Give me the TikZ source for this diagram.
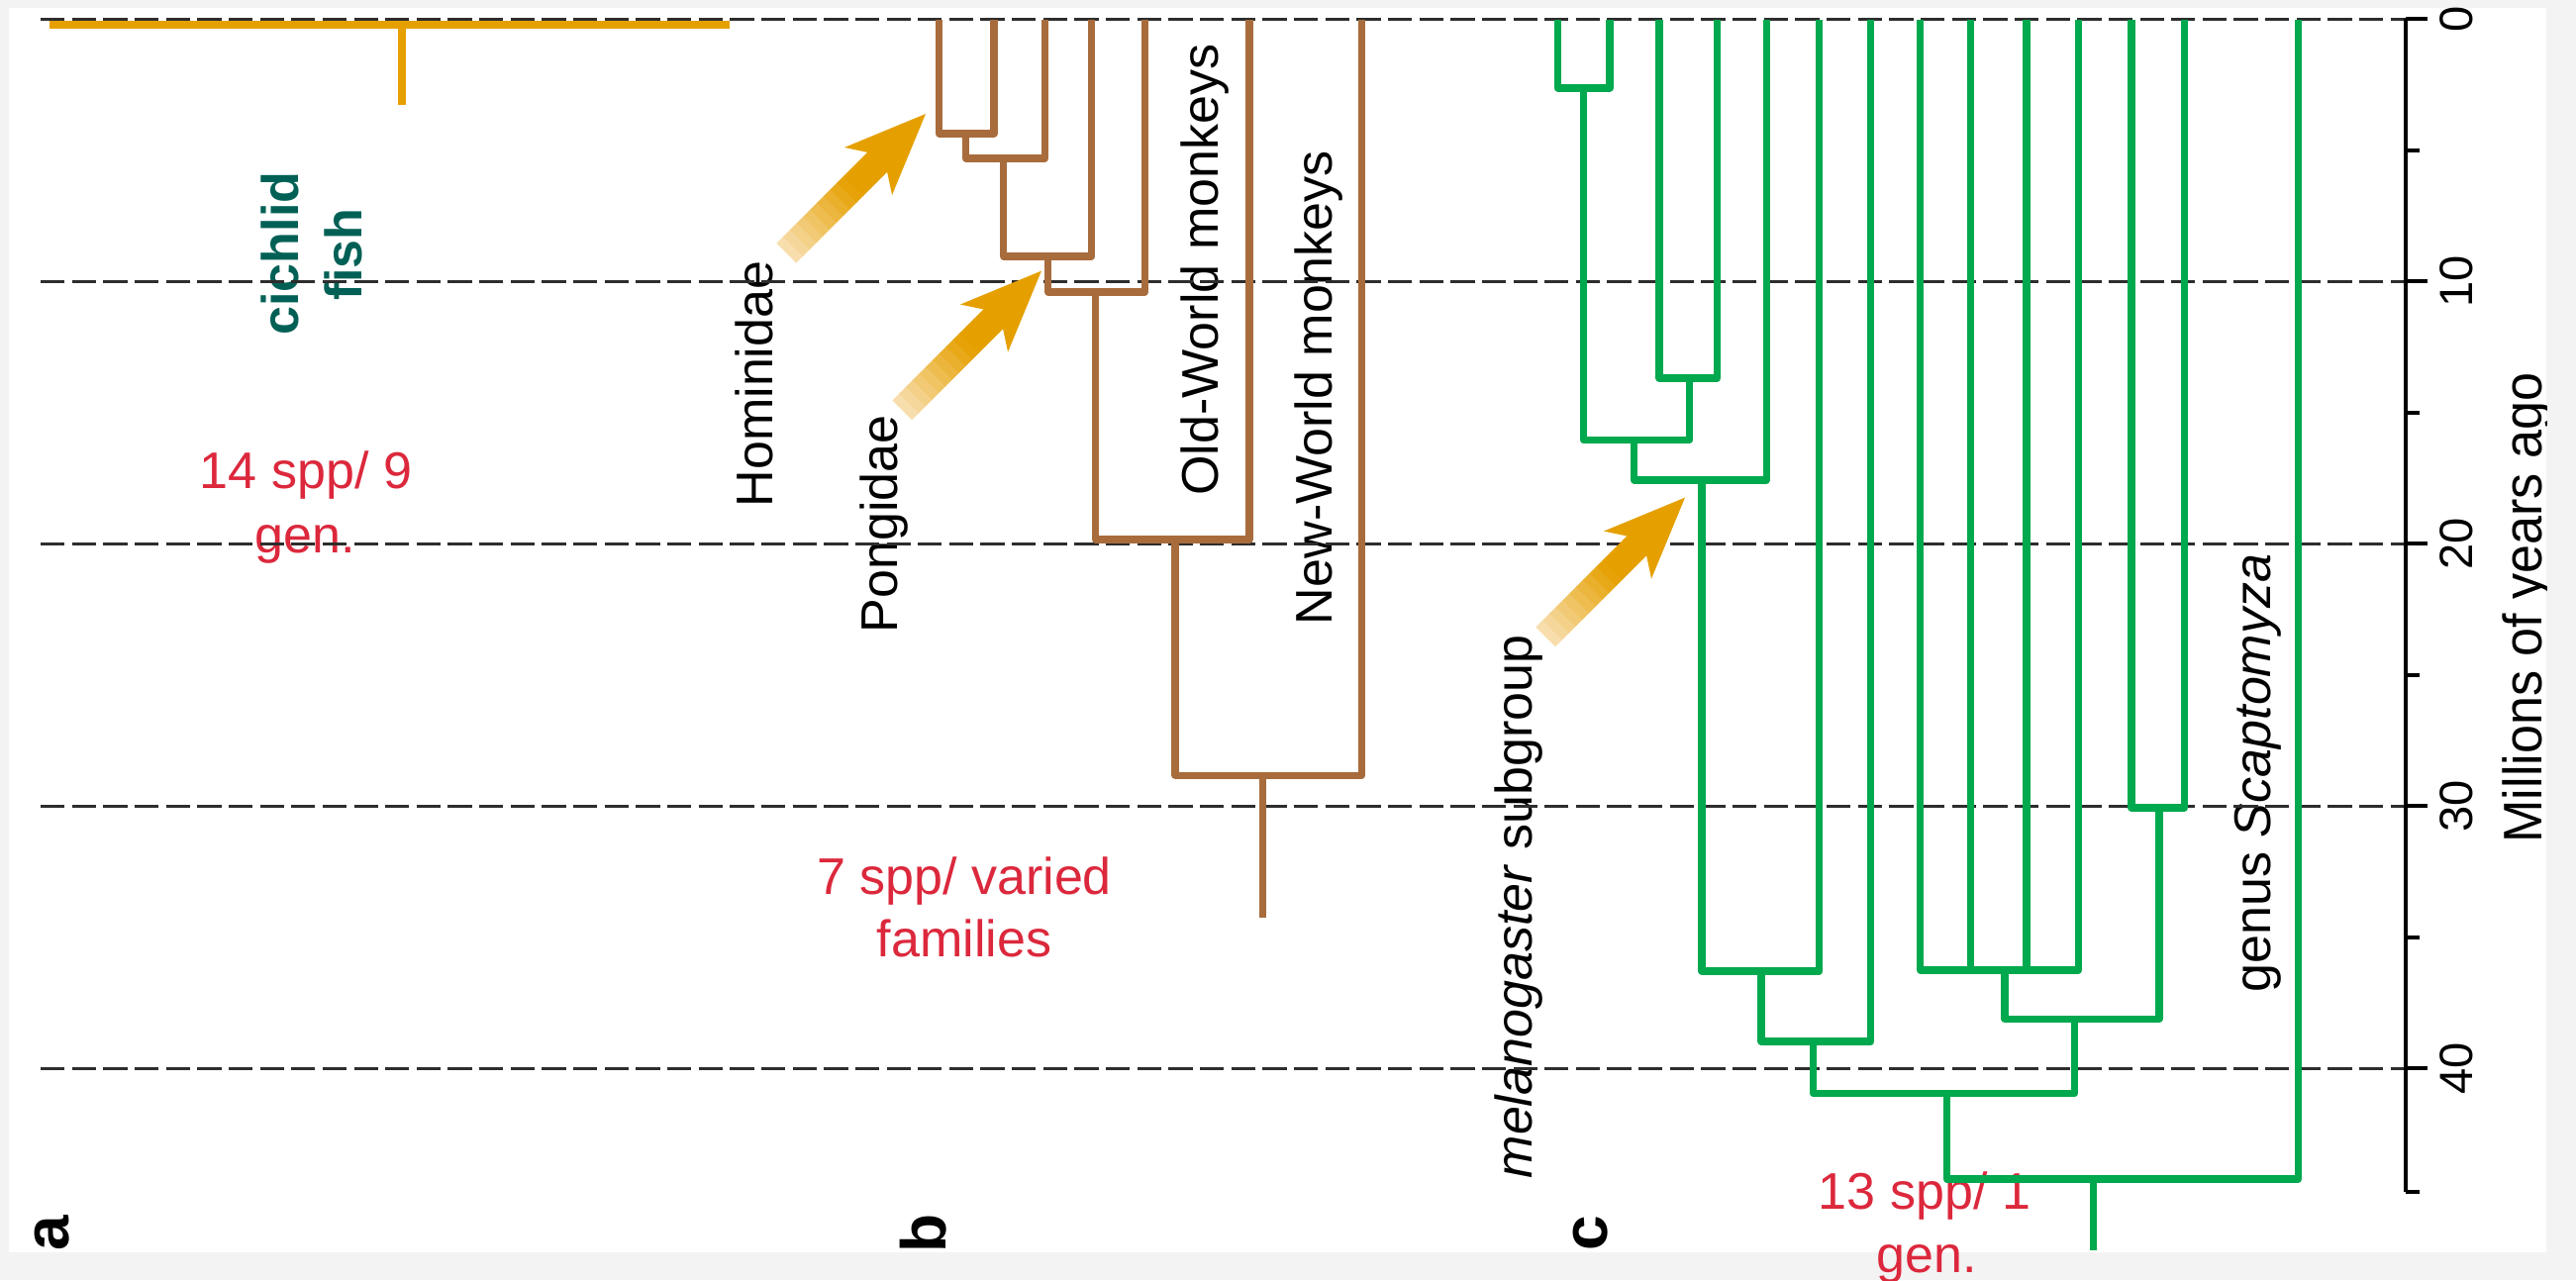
\documentclass[tikz,border=0pt]{standalone}
\usepackage{fontspec}
\setmainfont{Liberation Sans}
\definecolor{gold}{RGB}{229,160,0}
\definecolor{pale}{RGB}{252,234,206}
\definecolor{brtreecol}{RGB}{168,108,60}
\definecolor{grtreecol}{RGB}{0,168,78}
\definecolor{redtxt}{RGB}{220,40,60}
\definecolor{tealtxt}{RGB}{0,96,86}
\definecolor{dashcol}{RGB}{45,45,45}
\definecolor{bggray}{RGB}{243,243,243}
\newcommand\fsLbl{\fontsize{14.8pt}{17pt}\selectfont}
\newcommand\fsTick{\fontsize{13.4pt}{16pt}\selectfont}
\newcommand\fsTitle{\fontsize{15.6pt}{18pt}\selectfont}
\newcommand\fsPanel{\fontsize{18.2pt}{21pt}\selectfont}
\newcommand\goldarrow[1]{%
  \begin{scope}[shift={#1}, rotate=45]
    \foreach \i in {0,...,13} {
      \pgfmathsetmacro\ua{-199+\i*9.6}
      \pgfmathsetmacro\ub{\ua+10.4}
      \pgfmathtruncatemacro\pc{min(100,16+\i*9)}
      \fill[gold!\pc!pale] (\ua,-14) rectangle (\ub,14);
    }
    \fill[gold] (0,0) -- (-82,-34) -- (-69,-14) -- (-69,14) -- (-82,34) -- cycle;
  \end{scope}}
\begin{document}
\begin{tikzpicture}[x=0.01cm,y=-0.01cm,
  gridline/.style={draw=dashcol, line width=0.85pt, dash pattern=on 6.9pt off 2.1pt},
  brtree/.style={draw=brtreecol, line width=2pt, line join=round},
  grtree/.style={draw=grtreecol, line width=2.05pt, line join=round},
  gdtree/.style={draw=gold, line width=2.5pt},
  axline/.style={draw=black, line width=1.15pt},
  txt/.style={inner sep=0pt, outer sep=0pt, anchor=base},
  rtxt/.style={txt, rotate=90},
  redlbl/.style={txt, text=redtxt, font=\fsLbl},
  blklbl/.style={rtxt, text=black, font=\fsLbl},
  fishlbl/.style={rtxt, text=tealtxt, font=\fsLbl\bfseries},
  panlbl/.style={rtxt, text=black, font=\fsPanel\bfseries},
  ticklbl/.style={rtxt, text=black, font=\fsTick},
  titlelbl/.style={rtxt, text=black, font=\fsTitle},
]
\useasboundingbox (0,0) rectangle (2602,1293);
\fill[bggray] (0,0) rectangle (2602,1293);
\fill[white] (9,7.5) rectangle (2572,1265);

% ---------- labels ----------
\node[fishlbl] (cichlid) at (301,256) {cichlid};
\node[fishlbl] (fish) at (365,257) {fish};
\node[redlbl] (redA1) at (309,493) {14 spp/ 9};
\node[redlbl] (redA2) at (308,558) {gen.};
\node[redlbl] (redB1) at (974,903) {7 spp/ varied};
\node[redlbl] (redB2) at (974,966) {families};
\node[redlbl] (redC1) at (1944,1221) {13 spp/ 1};
\node[redlbl] (redC2) at (1946,1285) {gen.};
\node[blklbl] (hominidae) at (780,388) {Hominidae};
\node[blklbl] (pongidae) at (906.6,529.5) {Pongidae};
\node[blklbl] (oldworld) at (1230,272.5) {Old-World monkeys};
\node[blklbl] (newworld) at (1345,391.5) {New-World monkeys};
\node[blklbl] (melano) at (1547,916) {\textit{melanogaster} subgroup};
\node[blklbl] (scapto) at (2293,781) {genus \textit{Scaptomyza}};
\node[panlbl] (pa) at (70,1246) {a};
\node[panlbl] (pb) at (955,1246) {b};
\node[panlbl] (pc) at (1623,1246) {c};

% ---------- grid ----------
\foreach \t/\yy in {0/19,10/284.1,20/549.2,30/814.3,40/1079.4} {
  \coordinate (gl\t) at (41,\yy);
  \coordinate (gr\t) at (2430,\yy);
  \draw[gridline] (gl\t) -- (gr\t);
}

% ---------- axis ----------
\coordinate (axtop) at (2430,19);
\coordinate (axbot) at (2430,1204);
\draw[axline] (axtop) -- (axbot);
\foreach \t/\yy in {0/19,10/284.1,20/549.2,30/814.3,40/1079.4} {
  \coordinate (tka\t) at (2430,\yy);
  \coordinate (tkb\t) at (2452,\yy);
  \draw[axline] (tka\t) -- (tkb\t);
  \node[ticklbl] (tl\t) at (2497,\yy) {\t};
}
\foreach \t/\yy in {5/151.6,15/416.7,25/681.8,35/946.9,45/1204} {
  \coordinate (tma\t) at (2430,\yy);
  \coordinate (tmb\t) at (2444,\yy);
  \draw[axline] (tma\t) -- (tmb\t);
}
\begin{scope}
  \clip (9,7.5) rectangle (2572,1265);
  \node[titlelbl] (axtitle) at (2567,614) {\scalebox{0.95}[1]{Millions of years ago}};
\end{scope}

% ---------- panel a (cichlids) ----------
\coordinate (aL) at (49.5,25);
\coordinate (aR) at (737,25);
\coordinate (aN) at (406,25);
\coordinate (aRoot) at (406,106);
\draw[gdtree] (aL) -- (aR);
\draw[gdtree] (aN) -- (aRoot);

% ---------- panel b (primates) ----------
\coordinate (b1) at (948.5,20);
\coordinate (b2) at (1004,20);
\coordinate (b3) at (1055.6,20);
\coordinate (b4) at (1102.6,20);
\coordinate (b5) at (1156.6,20);
\coordinate (b6) at (1262,20);
\coordinate (b7) at (1375.5,20);
\coordinate (bJ1) at (975.5,135);
\coordinate (bJ2) at (1013.8,160);
\coordinate (bJ3) at (1058.7,259);
\coordinate (bJ4) at (1106.6,295);
\coordinate (bJ5) at (1187,545);
\coordinate (bJ6) at (1275.5,783);
\coordinate (bRoot) at (1275.5,927);
\draw[brtree] (b1) |- (bJ1) -| (b2);
\draw[brtree] (bJ1) |- (bJ2) -| (b3);
\draw[brtree] (bJ2) |- (bJ3) -| (b4);
\draw[brtree] (bJ3) |- (bJ4) -| (b5);
\draw[brtree] (bJ4) |- (bJ5) -| (b6);
\draw[brtree] (bJ5) |- (bJ6) -| (b7);
\draw[brtree] (bJ6) -- (bRoot);

% ---------- panel c (Drosophila) ----------
\coordinate (g1) at (1573.5,20);
\coordinate (g2) at (1626,20);
\coordinate (g3) at (1676,20);
\coordinate (g4) at (1734.7,20);
\coordinate (g5) at (1784.2,20);
\coordinate (g6) at (1837.8,20);
\coordinate (g7) at (1889.8,20);
\coordinate (g8) at (1939.8,20);
\coordinate (g9) at (1990.8,20);
\coordinate (g10) at (2047,20);
\coordinate (g11) at (2099.5,20);
\coordinate (g12) at (2153,20);
\coordinate (g13) at (2206.6,20);
\coordinate (g14) at (2321.7,20);
\coordinate (gK1) at (1599.5,89);
\coordinate (gK2) at (1706.6,382);
\coordinate (gK3) at (1650.5,444.4);
\coordinate (gK4) at (1718.9,485);
\coordinate (gK5) at (1779,981);
\coordinate (gK6) at (1831.6,1052);
\coordinate (gK7) at (2025,980);
\coordinate (gK8) at (2181,816);
\coordinate (gK9) at (2095.4,1029.5);
\coordinate (gK10) at (1966.3,1104.6);
\coordinate (gK11) at (2114.3,1191);
\coordinate (gRoot) at (2114.3,1263);
\draw[grtree] (g1) |- (gK1) -| (g2);
\draw[grtree] (g3) |- (gK2) -| (g4);
\draw[grtree] (gK1) |- (gK3) -| (gK2);
\draw[grtree] (gK3) |- (gK4) -| (g5);
\draw[grtree] (gK4) |- (gK5) -| (g6);
\draw[grtree] (gK5) |- (gK6) -| (g7);
\draw[grtree] (g8) |- (gK7) -| (g11);
\draw[grtree] (g9) -- (g9 |- gK7);
\draw[grtree] (g10) -- (g10 |- gK7);
\draw[grtree] (g12) |- (gK8) -| (g13);
\draw[grtree] (gK7) |- (gK9) -| (gK8);
\draw[grtree] (gK6) |- (gK10) -| (gK9);
\draw[grtree] (gK10) |- (gK11) -| (g14);
\draw[grtree] (gK11) -- (gRoot);

% ---------- arrows ----------
\goldarrow{(935,115)}
\goldarrow{(1052,273.6)}
\goldarrow{(1702,502.6)}
\end{tikzpicture}
\end{document}
